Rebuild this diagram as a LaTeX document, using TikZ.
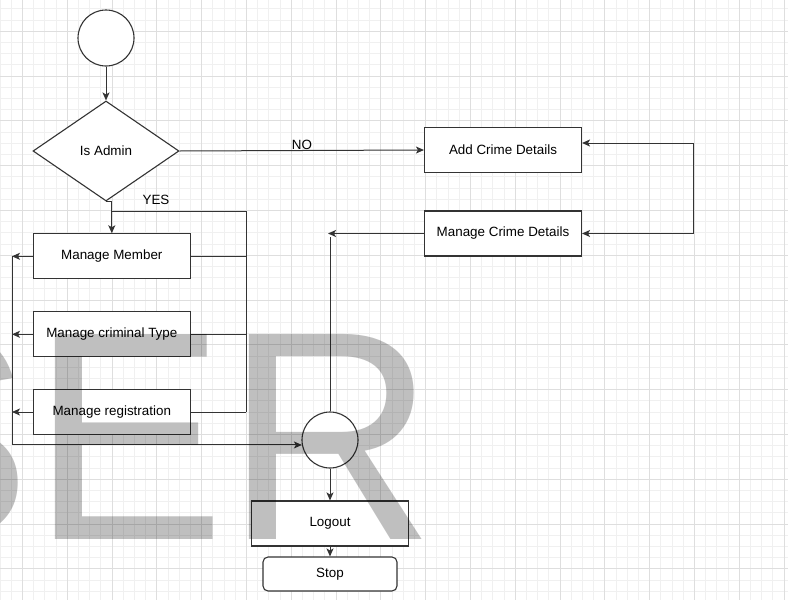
\documentclass[tikz,border=0pt]{standalone}
\usepackage{fontspec}
\setmainfont{Liberation Sans}
\newfontfamily\wmfont{Liberation Sans}
\usetikzlibrary{shapes.geometric,arrows.meta}
\tikzset{
  minorgrid/.style={draw=black!6, line width=0.8pt},
  majorgrid/.style={draw=black!13, line width=0.9pt},
  ln/.style={draw=black!80, line width=1pt},
  arr/.style={ln, -{Stealth[length=8pt,width=7pt,inset=2pt]}},
  arrboth/.style={ln, {Stealth[length=8pt,width=7pt,inset=2pt]}-{Stealth[length=8pt,width=7pt,inset=2pt]}},
  boxnode/.style={rectangle, draw=black!80, line width=1.1pt, fill=white, minimum width=157pt, minimum height=45pt, inner sep=0pt, font=\fontsize{13.4}{16}\selectfont},
  circnode/.style={circle, draw=black!80, line width=1.1pt, fill=white, minimum size=56pt, inner sep=0pt},
  lbl/.style={font=\fontsize{13.4}{16}\selectfont, inner sep=0pt}
}
\begin{document}
\begin{tikzpicture}[x=1pt,y=-1pt]
\useasboundingbox (0,0) rectangle (788,600);
\clip (0,0) rectangle (788,600);
\fill[white] (0,0) rectangle (788,600);
% grid
\foreach \i in {0,...,71} \draw[minorgrid] (\i*11.2,0) -- (\i*11.2,600);
\foreach \i in {0,...,54} \draw[minorgrid] (0,8.8+\i*11.2) -- (788,8.8+\i*11.2);
\foreach \i in {0,...,17} \draw[majorgrid] (22.4+\i*44.8,0) -- (22.4+\i*44.8,600);
\foreach \i in {0,...,13} \draw[majorgrid] (0,31.2+\i*44.8) -- (788,31.2+\i*44.8);

% nodes
\node[circnode] (start) at (106,38) {};
\node[diamond, draw=black!80, line width=1.1pt, fill=white, minimum width=146pt, minimum height=100pt, inner sep=0pt, font=\fontsize{13.4}{16}\selectfont] (dia) at (106,151) {Is Admin};
\node[boxnode] (acd) at (503,150) {Add Crime Details};
\node[boxnode] (mcd) at (503,233.5) {Manage Crime Details};
\node[boxnode] (mm) at (111.8,256.3) {Manage Member};
\node[boxnode] (mct) at (111.8,334.3) {Manage criminal Type};
\node[boxnode] (mr) at (111.8,412) {Manage registration};
\node[circnode] (merge) at (330,440) {};
\node[boxnode] (logout) at (330,523.5) {Logout};
\node[boxnode, rounded corners=5pt, minimum width=134pt, minimum height=34pt] (stop) at (330,574) {Stop};

% coordinates
\coordinate (lx) at (12,0);
\coordinate (rx) at (246,0);
\coordinate (j1) at (111.8,211);
\coordinate (j2) at (246,211);
\coordinate (r1) at (693,143);
\coordinate (r2) at (693,233.5);
\coordinate (c1) at (328,233.5);
\coordinate (c2) at (330,237);

% connectors
\draw[arr] (start) -- (dia);
\draw[arr] (dia.east) -- (acd.west);
\node[lbl] (nolbl) at (302,144.5) {NO};
\draw[arr] (dia.south) -| (mm.north);
\node[lbl] (yeslbl) at (156,200) {YES};
\draw[ln] (j1) -- (j2) -- (rx |- mr.east);
\draw[ln] (mm.east) -- (rx |- mm.east);
\draw[ln] (mct.east) -- (rx |- mct.east);
\draw[ln] (mr.east) -- (rx |- mr.east);
\draw[arr] (mm.west) -- (lx |- mm.west);
\draw[arr] (mct.west) -- (lx |- mct.west);
\draw[arr] (mr.west) -- (lx |- mr.west);
\draw[arr] (lx |- mm.west) |- (merge.190);
\draw[arrboth] ([yshift=7pt]acd.east) -- (r1) -- (r2) -- (mcd.east);
\draw[arr] (mcd.west) -- (c1);
\draw[ln] (merge.north) -- (c2);
\draw[arr] (merge) -- (logout);
\draw[arr] (logout) -- (stop);

% watermark
\node[anchor=base west, inner sep=0pt, text=black, text opacity=0.25, font=\fontsize{288}{288}\wmfont] (wm) at (-162.6,539.3) {\scalebox{1.01}[1.035]{SER}};
\end{tikzpicture}
\end{document}
